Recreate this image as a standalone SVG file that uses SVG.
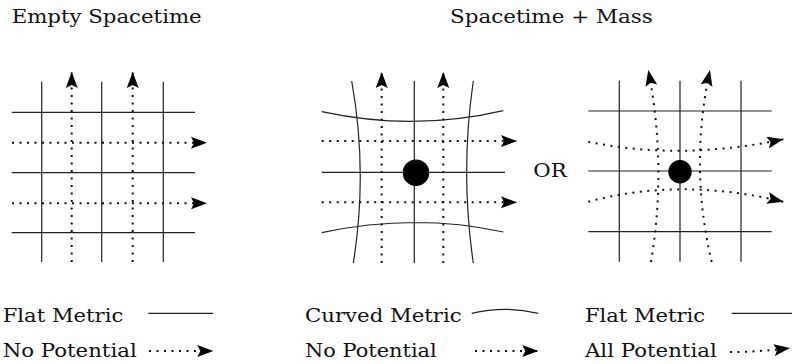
<svg xmlns="http://www.w3.org/2000/svg" width="792" height="364" viewBox="0 0 792 364">
<style>
text{font-family:"DejaVu Serif",serif;font-size:18.5px;fill:#111}
.s{fill:none;stroke:#222;stroke-width:1.2}
.d{fill:none;stroke:#111;stroke-width:2;stroke-dasharray:2 5.5}
.a{marker-end:url(#ah)}
</style>
<defs>
<marker id="ah" markerUnits="userSpaceOnUse" markerWidth="18" markerHeight="14" refX="16" refY="6" orient="auto" overflow="visible">
<path d="M0,0 L16,6 L0,12 L3,6 Z" fill="#000"/>
</marker>
</defs>
<rect width="792" height="364" fill="#fff"/>
<g id="titles">
<text x="11.7" y="23.3" textLength="190" lengthAdjust="spacingAndGlyphs">Empty Spacetime</text>
<text x="450" y="23.3" textLength="202.7" lengthAdjust="spacingAndGlyphs">Spacetime + Mass</text>
</g>
<g id="panel-empty">
<path class="s" d="M41.7,81.7V262M101.7,81.7V262M163.3,81.7V262M11.7,112.3H195M11.7,172.7H195M11.7,232.7H195"/>
</g>
<g id="panel-curved">
<path class="s" d="M414.3,81V263M351.7,81Q368,172 353.3,263M473.3,81Q460,172 473.3,263M321.7,111.7Q414,131.7 503.3,110.7M321.7,172.3H505M321.7,232.7Q414,212.7 503.3,232"/>
<circle cx="416" cy="172.7" r="13.3" fill="#000"/>
</g>
<g id="or-label"><text x="533.3" y="176.7" textLength="33.4" lengthAdjust="spacingAndGlyphs">OR</text></g>
<g id="panel-potential">
<path class="s" d="M619.3,80.7V261.7M680,80.7V261.7M741,80.7V261.7M588.3,111H771.7M588.3,171H771.7M588.3,231.7H771.7"/>
<circle cx="680" cy="171.7" r="11.7" fill="#000"/>
</g>
<g id="connectors">
<path class="d a" d="M71.7,262V72"/>
<path class="d a" d="M132.7,262V72"/>
<path class="d a" d="M12,142.7H207"/>
<path class="d a" d="M12,203.3H207"/>
<path class="d a" d="M381.7,263V72"/>
<path class="d a" d="M443.3,263V72"/>
<path class="d a" d="M321.7,141H517"/>
<path class="d a" d="M321.7,202.3H517"/>
<path class="d a" d="M651,262Q667,166 648.3,70"/>
<path class="d a" d="M711.7,262Q689,166 710,70"/>
<path class="d a" d="M588.3,141.7Q680,161 783.3,139.3"/>
<path class="d a" d="M588.3,201.7Q680,177 783.3,201.7"/>
</g>
<g id="legend">
<text x="2.7" y="321.7" textLength="120.6" lengthAdjust="spacingAndGlyphs">Flat Metric</text>
<text x="2.7" y="356.7" textLength="134" lengthAdjust="spacingAndGlyphs">No Potential</text>
<path class="s" d="M148.3,313.3H213.3"/>
<path class="d a" d="M149,351H213.3"/>
<text x="305" y="321.7" textLength="156.7" lengthAdjust="spacingAndGlyphs">Curved Metric</text>
<text x="305" y="356.7" textLength="131.7" lengthAdjust="spacingAndGlyphs">No Potential</text>
<path class="s" d="M471.7,313.3Q505,305.3 538.3,313.3"/>
<path class="d a" d="M475,351H538.3"/>
<text x="585" y="321.7" textLength="120" lengthAdjust="spacingAndGlyphs">Flat Metric</text>
<text x="585" y="356.7" textLength="131.7" lengthAdjust="spacingAndGlyphs">All Potential</text>
<path class="s" d="M731.7,313.3H792"/>
<path class="d a" d="M730,352Q760,352 790,348"/>
</g>
</svg>
